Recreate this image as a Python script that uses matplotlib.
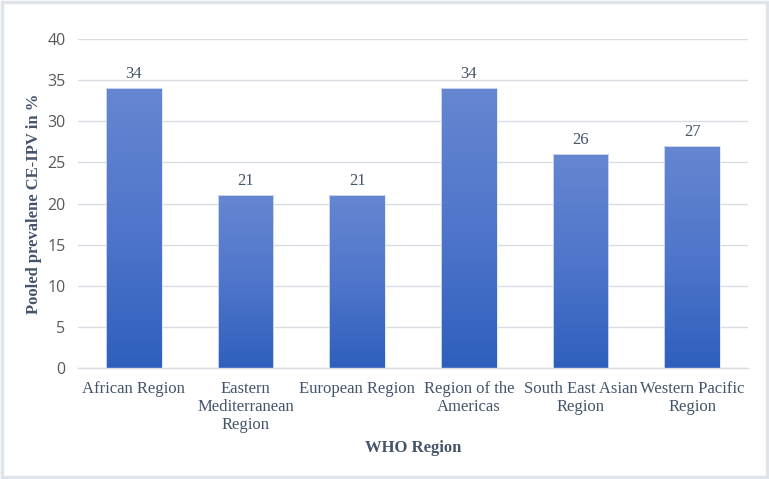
import matplotlib
matplotlib.use("Agg")

import matplotlib.pyplot as plt
import numpy as np
from matplotlib.colors import LinearSegmentedColormap
from matplotlib.patches import FancyBboxPatch


regions = [
    "African Region",
    "Eastern\nMediterranean\nRegion",
    "European Region",
    "Region of the\nAmericas",
    "South East Asian\nRegion",
    "Western Pacific\nRegion",
]
prevalence = [34, 21, 21, 34, 26, 27]
y_ticks = [0, 5, 10, 15, 20, 25, 30, 35, 40]

TEXT = "#44546a"
SERIF = "Liberation Serif"

fig = plt.figure(figsize=(7.69, 4.79), dpi=100)
ax = fig.add_axes([0.1014, 0.2317, 0.8713, 0.6869])

# light frame round the whole figure
fig.patches.append(FancyBboxPatch((0.003, 0.004), 0.994, 0.992,
                                  boxstyle="square,pad=0", transform=fig.transFigure,
                                  fill=False, edgecolor="#dfe3ea", linewidth=2.5))

x = np.arange(len(regions))
bars = ax.bar(x, prevalence, width=0.5, color="none", edgecolor="#dce4f5",
              linewidth=0.6, zorder=3)

cmap = LinearSegmentedColormap.from_list("barfill", ["#2f5fbd", "#4f76cb", "#6686d1"])
grad = np.linspace(0, 1, 256).reshape(-1, 1)
for b in bars:
    x0 = b.get_x()
    x1 = x0 + b.get_width()
    h = b.get_height()
    im = ax.imshow(grad, cmap=cmap, origin="lower", aspect="auto",
                   extent=[x0, x1, 0, h], zorder=2)
    im.set_clip_path(b)
    ax.text(b.get_x() + b.get_width() / 2, h + 0.75, f"{h:g}", ha="center",
            va="bottom", fontsize=12, family=SERIF, color=TEXT)

ax.set_xlim(-0.5, len(regions) - 0.5)
ax.set_ylim(0, 40)
ax.set_yticks(y_ticks)
ax.set_yticklabels([str(t) for t in y_ticks], family="Open Sans", fontsize=11.5,
                   color="#595959")
ax.set_xticks(x)
ax.set_xticklabels(regions, family=SERIF, fontsize=12, color=TEXT, linespacing=1.2)
ax.tick_params(axis="both", length=0)
ax.tick_params(axis="y", pad=9)
ax.tick_params(axis="x", pad=9)

ax.grid(axis="y", color="#d9dde3", linewidth=1.0, zorder=0)
ax.set_axisbelow(True)
for s in ["top", "right", "left"]:
    ax.spines[s].set_visible(False)
ax.spines["bottom"].set_color("#d9dde3")
ax.spines["bottom"].set_linewidth(1.0)

ax.set_ylabel("Pooled prevalene CE-IPV in %", family=SERIF, fontsize=12,
              fontweight="bold", color=TEXT, labelpad=4)
ax.set_xlabel("WHO Region", family=SERIF, fontsize=12, fontweight="bold",
              color=TEXT, labelpad=5)

fig.savefig("out.png", dpi=100)
